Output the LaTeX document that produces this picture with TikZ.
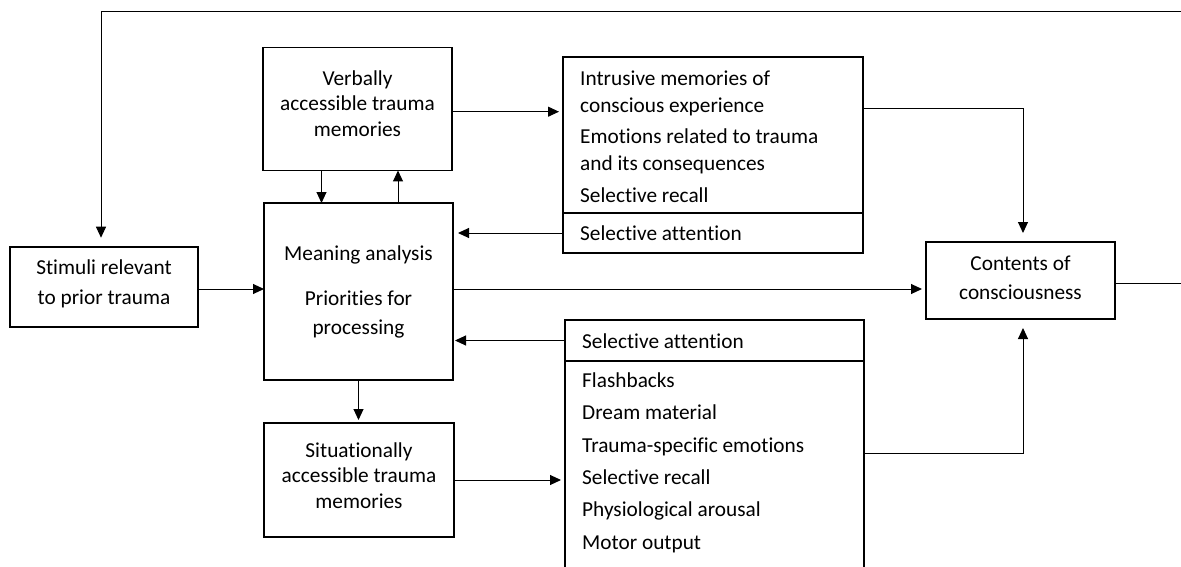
\documentclass[tikz,border=0pt]{standalone}
\usepackage{fontspec}
\setmainfont{Carlito}[Ligatures=NoCommon]
\usetikzlibrary{arrows.meta}
% body text at 21.3pt with a selectable line spacing
\newcommand\boxfont[1]{\fontsize{21.3pt}{#1}\selectfont}
\tikzset{
  box/.style={draw, line width=1.8pt, inner sep=0pt, outer sep=0pt},
  txt/.style={inner sep=0pt, anchor=north, align=center},
  ltxt/.style={inner sep=0pt, anchor=north west, align=left},
  link/.style={line width=1pt, -{Triangle[length=11pt,width=10pt]}},
}
\begin{document}
\begin{tikzpicture}[x=1pt, y=-1pt]
\useasboundingbox (0,0) rectangle (1181,567);
\clip (0,0) rectangle (1181,567);

% ---- boxes ----
\node[box, minimum width=188pt, minimum height=80pt]  (stim)     at (104,286.7) {};
\node[box, minimum width=189pt, minimum height=177pt] (meaning)  at (358.5,291.5) {};
\node[box, minimum width=189pt, minimum height=123pt] (verb)     at (357.5,109) {};
\node[box, minimum width=190pt, minimum height=114pt] (sit)      at (359,480) {};
\node[box, minimum width=189pt, minimum height=77pt]  (contents) at (1020.5,280.5) {};

% upper list box: outputs, then selective attention below the divider
\node[box, anchor=north west, minimum width=300pt, minimum height=156pt] (intrA) at (563,57) {};
\node[box, anchor=north west, minimum width=300pt, minimum height=40pt]  (intrB) at (intrA.south west) {};

% lower list box: selective attention above the divider, outputs below (runs off the page)
\node[box, anchor=north west, minimum width=299pt, minimum height=41pt]  (lowA) at (565,320) {};
\node[box, anchor=north west, minimum width=299pt, minimum height=260pt] (lowB) at (lowA.south west) {};

% ---- texts ----
\node[txt, font=\boxfont{30pt}]   (stim-t)     at ([yshift=-12.6pt]stim.north) {Stimuli relevant\\to prior trauma};
\node[txt, font=\boxfont{29pt}]   (meaning-t)  at ([yshift=-42.3pt]meaning.north) {Meaning analysis\\[16pt]Priorities for\\processing};
\node[txt, font=\boxfont{25.5pt}] (verb-t)     at ([yshift=-22.6pt]verb.north) {Verbally\\accessible trauma\\memories};
\node[txt, font=\boxfont{25.5pt}] (sit-t)      at ([yshift=-19.3pt]sit.north) {Situationally\\accessible trauma\\memories};
\node[txt, font=\boxfont{29pt}]   (contents-t) at ([yshift=-13.3pt]contents.north) {Contents of\\consciousness};

\node[ltxt, font=\boxfont{27pt}] (intrA-t) at ([xshift=17pt,yshift=-13.3pt]intrA.north west)
  {Intrusive memories of\\conscious experience\\[4pt]Emotions related to trauma\\and its consequences\\[5pt]Selective recall};
\node[ltxt, font=\boxfont{27pt}] (intrB-t) at ([xshift=17pt,yshift=-12.3pt]intrB.north west) {Selective attention};
\node[ltxt, font=\boxfont{27pt}] (lowA-t)  at ([xshift=17pt,yshift=-13.3pt]lowA.north west) {Selective attention};
\node[ltxt, font=\boxfont{32.4pt}] (lowB-t) at ([xshift=17pt,yshift=-11.3pt]lowB.north west)
  {Flashbacks\\Dream material\\Trauma-specific emotions\\Selective recall\\Physiological arousal\\Motor output};

% ---- connectors ----
\coordinate (row) at ([yshift=-2.3pt]stim.east);
\coordinate (loopR) at (1195,12);

\draw[link] (row) -- (row -| meaning.west);
\draw[link, shorten >=4pt] (row -| meaning.east) -- (row -| contents.west);

\draw[link] ([xshift=-36pt]verb.south) -- ([xshift=-36pt]verb.south |- meaning.north);
\draw[link] ([xshift=40.5pt]verb.south |- meaning.north) -- ([xshift=40.5pt]verb.south);

\draw[link, shorten >=4pt] ([yshift=-2.7pt]verb.east) -- ([yshift=-2.7pt]verb.east -| intrA.west);
\draw[link, shorten >=5pt] (intrB.west) -- (intrB.west -| meaning.east);
\draw[link, shorten >=2pt] (lowA.west) -- (lowA.west -| meaning.east);

\draw[link, shorten >=3pt] (meaning.south) -- (meaning.south |- sit.north);
\draw[link, shorten >=4pt] (sit.east) -- (sit.east -| lowB.west);

\draw[link, shorten >=9pt] (intrA.east |- verb.east) -| ([xshift=2.5pt]contents.north);
\draw[link, shorten >=9pt] ([yshift=-92pt]lowB.north east) -| ([xshift=2.5pt]contents.south);

% feedback loop from consciousness back to the stimuli
\draw[link, shorten >=9pt] ([yshift=-2.5pt]contents.east) -| (loopR) -| ([xshift=-3pt]stim.north);
\end{tikzpicture}
\end{document}
